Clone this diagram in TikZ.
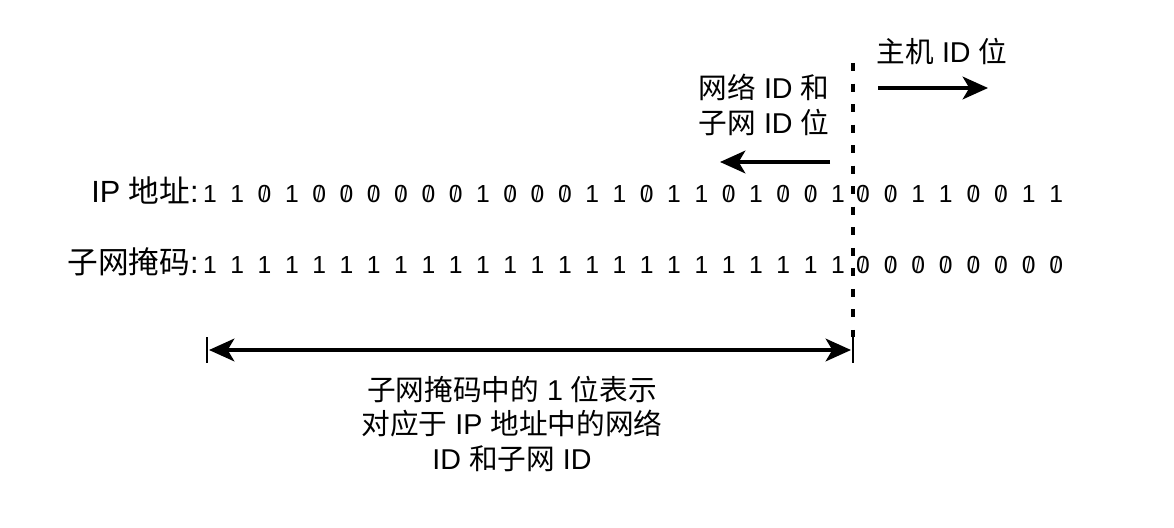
\documentclass[tikz,border=0pt]{standalone}
\usepackage{fontspec}
\setmainfont{Liberation Sans}
\newfontfamily\cjk{Noto Sans CJK SC}
\newcommand{\zh}[1]{{\cjk #1}}
\newcommand{\sz}{\ooalign{0\cr\hidewidth\raisebox{0.07em}{\scalebox{0.6}[0.8]{/}}\hidewidth\cr}}
\usetikzlibrary{arrows.meta}

\begin{document}
\begin{tikzpicture}[>={Stealth[length=19pt,width=17pt,inset=5pt]}, x=0.75pt, y=-0.75pt]
	\tikzstyle{txt} = [inner sep=0pt, font=\fontsize{21.5}{26}\selectfont, align=center]
	\tikzstyle{rowtxt} = [inner sep=0pt, anchor=base east, font=\fontsize{23}{26}\selectfont]
	\tikzstyle{bit} = [inner sep=0pt, anchor=base, font=\fontsize{18.5}{22}\selectfont]
	\tikzstyle{arr} = [line width=2.6pt]
	\tikzstyle{endtick} = [line width=2.2pt]
	\tikzstyle{divider} = [line width=2.4pt, dash pattern=on 6pt off 9.4pt]
	\useasboundingbox (0,0) rectangle (1174,528);
	% texts above the rows
	\node[txt] (host) at (942,52) {\zh{主机} ID \zh{位}};
	\node[txt] (netid) at (764,105) {\zh{网络} ID \zh{和}\\\zh{子网} ID \zh{位}};
	\coordinate (ha) at (878,88);
	\coordinate (hb) at (988,88);
	\coordinate (na) at (830,162);
	\coordinate (nb) at (720,162);
	\draw[arr,->] (ha) -- (hb);
	\draw[arr,->] (na) -- (nb);
	% the two rows of bits
	\node[rowtxt] (iplbl) at (199,202) {IP \zh{地址}:};
	\node[rowtxt] (mklbl) at (199,273) {\zh{子网掩码}:};
	\foreach \b [count=\i] in {1,1,0,1,0,0,0,0,0,0,1,0,0,0,1,1,0,1,1,0,1,0,0,1,0,0,1,1,0,0,1,1} {
		\pgfmathsetmacro{\bx}{\i<25 ? 210+27.3*(\i-1) : 863+27.6*(\i-25)}
		\node[bit] (ip\i) at (\bx,202) {\ifnum\b=0 \sz\else 1\fi};
	}
	\foreach \i in {1,...,32} {
		\pgfmathsetmacro{\bx}{\i<25 ? 210+27.3*(\i-1) : 863+27.6*(\i-25)}
		\node[bit] (mk\i) at (\bx,273) {\ifnum\i<25 1\else\sz\fi};
	}
	% divider and span
	\coordinate (dtop) at (853,63);
	\coordinate (rt) at (853,337);
	\coordinate (rb) at (853,363);
	\coordinate (lt) at (207,337);
	\coordinate (lb) at (207,363);
	\coordinate (la) at (209,350);
	\coordinate (ra) at (851,350);
	\draw[divider] (dtop) -- (rt);
	\draw[endtick] (lt) -- (lb);
	\draw[endtick] (rt) -- (rb);
	\draw[arr,<->] (la) -- (ra);
	\node[txt] (caption) at (512,424) {\zh{子网掩码中的} 1 \zh{位表示}\\\zh{对应于} IP \zh{地址中的网络}\\ID \zh{和子网} ID};
\end{tikzpicture}
\end{document}
